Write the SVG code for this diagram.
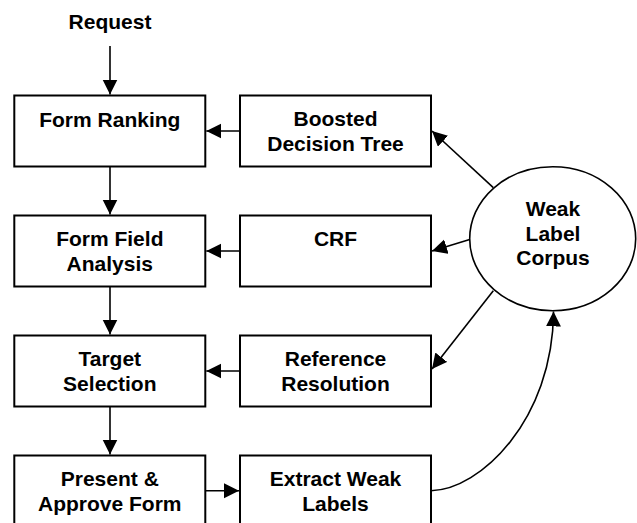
<svg xmlns="http://www.w3.org/2000/svg" width="637" height="523" viewBox="0 0 637 523">
<style>
.box{fill:#fff;stroke:#000;stroke-width:2}
.ell{fill:#fff;stroke:#000;stroke-width:1.6}
.t{font-family:"Liberation Sans",Arial,sans-serif;font-weight:bold;font-size:21px;fill:#000;text-anchor:middle}
.c{fill:none;stroke:#000;stroke-width:1.6}
</style>
<defs>
<marker id="ah" markerUnits="userSpaceOnUse" markerWidth="16" markerHeight="16" refX="15" refY="7.5" orient="auto">
<path d="M0,0 L15,7.5 L0,15 z" fill="#000"/>
</marker>
</defs>
<g id="request"><text class="t" x="110" y="29">Request</text></g>
<g id="form-ranking"><rect class="box" x="14.3" y="95.5" width="191" height="71"/><text class="t" x="109.8" y="127">Form Ranking</text></g>
<g id="form-field-analysis"><rect class="box" x="14.3" y="215.5" width="191" height="71"/><text class="t" x="109.8" y="246">Form Field</text><text class="t" x="109.8" y="270.5">Analysis</text></g>
<g id="target-selection"><rect class="box" x="14.3" y="335.5" width="191" height="71"/><text class="t" x="109.8" y="366">Target</text><text class="t" x="109.8" y="390.5">Selection</text></g>
<g id="present-approve"><rect class="box" x="14.3" y="455.5" width="191" height="71"/><text class="t" x="109.8" y="486">Present &amp;</text><text class="t" x="109.8" y="510.5">Approve Form</text></g>
<g id="boosted"><rect class="box" x="240" y="95.5" width="191" height="71"/><text class="t" x="335.5" y="126">Boosted</text><text class="t" x="335.5" y="150.5">Decision Tree</text></g>
<g id="crf"><rect class="box" x="240" y="215.5" width="191" height="71"/><text class="t" x="335.5" y="246">CRF</text></g>
<g id="reference"><rect class="box" x="240" y="335.5" width="191" height="71"/><text class="t" x="335.5" y="366">Reference</text><text class="t" x="335.5" y="390.5">Resolution</text></g>
<g id="extract"><rect class="box" x="240" y="455.5" width="191" height="71"/><text class="t" x="335.5" y="486">Extract Weak</text><text class="t" x="335.5" y="510.5">Labels</text></g>
<g id="corpus"><ellipse class="ell" cx="552.7" cy="238.7" rx="83" ry="72"/><text class="t" x="553" y="216">Weak</text><text class="t" x="553" y="240.5">Label</text><text class="t" x="553" y="265">Corpus</text></g>
<g id="connectors">
<line class="c" x1="110" y1="46" x2="110" y2="94.5" marker-end="url(#ah)"/>
<line class="c" x1="110" y1="166.5" x2="110" y2="214.5" marker-end="url(#ah)"/>
<line class="c" x1="110" y1="286.5" x2="110" y2="334.5" marker-end="url(#ah)"/>
<line class="c" x1="110" y1="406.5" x2="110" y2="454.5" marker-end="url(#ah)"/>
<line class="c" x1="240" y1="131" x2="206.3" y2="131" marker-end="url(#ah)"/>
<line class="c" x1="240" y1="251" x2="206.3" y2="251" marker-end="url(#ah)"/>
<line class="c" x1="240" y1="371" x2="206.3" y2="371" marker-end="url(#ah)"/>
<line class="c" x1="205.3" y1="490.7" x2="239" y2="490.7" marker-end="url(#ah)"/>
<line class="c" x1="493.3" y1="187.7" x2="432" y2="131" marker-end="url(#ah)"/>
<line class="c" x1="469.7" y1="239.5" x2="432" y2="251" marker-end="url(#ah)"/>
<line class="c" x1="493.3" y1="290.7" x2="432" y2="369" marker-end="url(#ah)"/>
<path class="c" d="M431,490.7 C480,490 553,420 553.5,311.5" marker-end="url(#ah)"/>
</g>
</svg>
